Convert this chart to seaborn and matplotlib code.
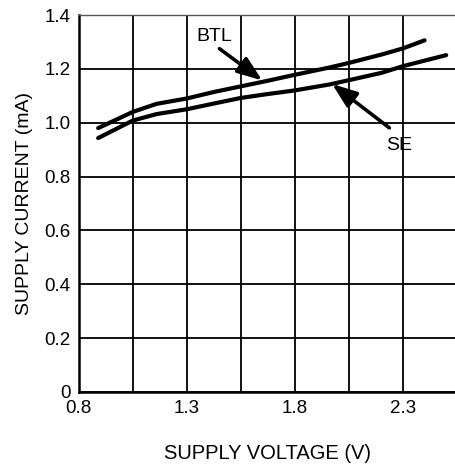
import matplotlib
matplotlib.use("Agg")
import matplotlib.pyplot as plt
import seaborn as sns
import pandas as pd

# ---- data ----
btl_v = [0.89, 1.05, 1.16, 1.30, 1.43, 1.55, 1.67, 1.80, 1.96, 2.05, 2.20, 2.30, 2.40]
btl_i = [0.98, 1.04, 1.07, 1.09, 1.115, 1.135, 1.155, 1.178, 1.205, 1.222, 1.253, 1.276, 1.306]
se_v = [0.89, 1.05, 1.16, 1.30, 1.43, 1.55, 1.67, 1.80, 1.96, 2.05, 2.20, 2.30, 2.50]
se_i = [0.943, 1.008, 1.032, 1.050, 1.072, 1.092, 1.106, 1.12, 1.142, 1.158, 1.185, 1.21, 1.251]

x_ticks = [0.8, 1.05, 1.3, 1.55, 1.8, 2.05, 2.3, 2.55]
x_tick_labels = ["0.8", "", "1.3", "", "1.8", "", "2.3", ""]
y_ticks = [0, 0.2, 0.4, 0.6, 0.8, 1.0, 1.2, 1.4]
y_tick_labels = ["0", "0.2", "0.4", "0.6", "0.8", "1.0", "1.2", "1.4"]

x_label = "SUPPLY VOLTAGE (V)"
y_label = "SUPPLY CURRENT (mA)"

sns.set_style("white")
plt.rcParams["font.family"] = ["Liberation Sans", "DejaVu Sans"]
plt.rcParams["text.color"] = "black"
plt.rcParams["axes.labelcolor"] = "black"

fig = plt.figure(figsize=(4.55, 4.70), dpi=100)
ax = fig.add_axes([78.7 / 455, 78 / 470, (457 - 78.7) / 455, (392 - 15) / 470])

df_btl = pd.DataFrame({"v": btl_v, "i": btl_i})
df_se = pd.DataFrame({"v": se_v, "i": se_i})
sns.lineplot(data=df_btl, x="v", y="i", color="black", lw=3.0, ax=ax,
             estimator=None, sort=False, zorder=5, solid_capstyle="round")
sns.lineplot(data=df_se, x="v", y="i", color="black", lw=3.0, ax=ax,
             estimator=None, sort=False, zorder=5, solid_capstyle="round")

ax.set_xlim(0.8, 2.55)
ax.set_ylim(0, 1.4)
ax.set_xticks(x_ticks)
ax.set_xticklabels(x_tick_labels)
ax.set_yticks(y_ticks)
ax.set_yticklabels(y_tick_labels)
ax.grid(True, color="black", lw=1.3)
ax.tick_params(length=0, labelsize=13.5, pad=6, colors="black")
ax.set_xlabel(x_label, fontsize=14.5, labelpad=19)
ax.set_ylabel(y_label, fontsize=14, labelpad=8)

for s in ["left", "bottom"]:
    ax.spines[s].set_color("black")
    ax.spines[s].set_linewidth(1.8)
ax.spines["top"].set_color("#555555")
ax.spines["top"].set_linewidth(1.0)
ax.spines["right"].set_visible(False)

arrow = dict(arrowstyle="-|>,head_length=0.75,head_width=0.28", lw=2.6,
             color="black", shrinkA=0, shrinkB=0, mutation_scale=20)
ax.annotate("", xy=(1.649, 1.157), xytext=(1.451, 1.275), arrowprops=arrow, zorder=6)
ax.annotate("", xy=(1.972, 1.144), xytext=(2.237, 0.981), arrowprops=arrow, zorder=6)
ax.text(1.426, 1.321, "BTL", fontsize=14, ha="center", va="center", color="black")
ax.text(2.283, 0.914, "SE", fontsize=14, ha="center", va="center", color="black")

fig.savefig("out.png", dpi=100)
